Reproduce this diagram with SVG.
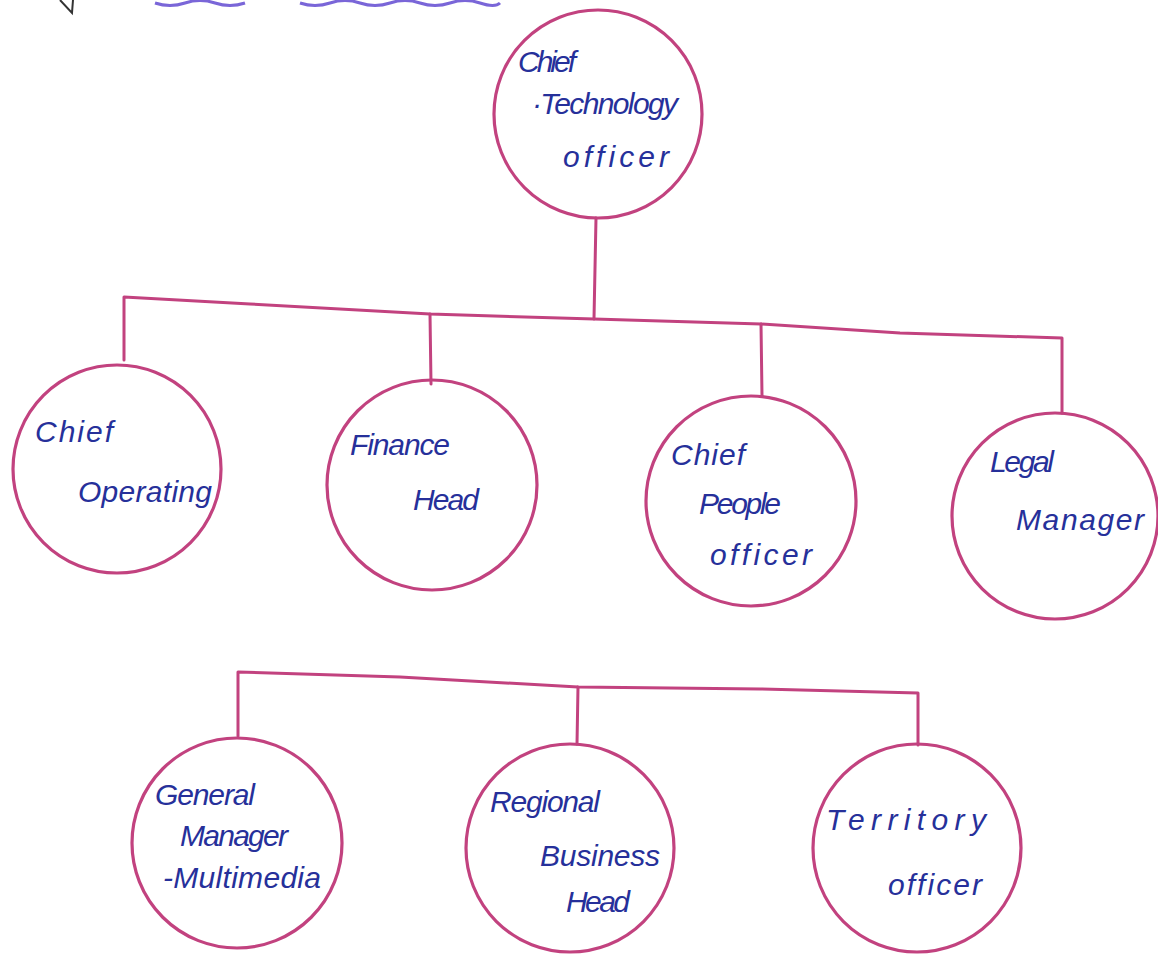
<svg xmlns="http://www.w3.org/2000/svg" width="1158" height="955" viewBox="0 0 1158 955">
<style>
.node circle{fill:none;stroke:#c2427f;stroke-width:3.2}
.node text{font-family:"Liberation Sans","DejaVu Sans",sans-serif;font-style:italic;font-size:30px;fill:#26309a}
.conn{fill:none;stroke:#c2427f;stroke-width:3;stroke-linejoin:round;stroke-linecap:round}
</style>
<rect width="1158" height="955" fill="#ffffff"/>
<g id="marks">
<path d="M60 0 L72 13 L73 0" fill="none" stroke="#333" stroke-width="2"/>
<path d="M155 3 Q170 8 185 3 T215 3 T245 3 M300 3 Q315 8 330 3 T360 3 T390 3 T420 3 T450 3 T480 3 T500 3" fill="none" stroke="#7a66d8" stroke-width="3"/>
</g>
<g id="connectors">
<path class="conn" d="M596 218 L594 319"/>
<path class="conn" d="M124 360 L124 297 L250 304 L430 314 L594 319 L761 324 L900 333 L1062 338 L1062 413"/>
<path class="conn" d="M430 314 L431 384"/>
<path class="conn" d="M761 324 L762 396"/>
<path class="conn" d="M238 736 L238 672 L400 677 L578 687 L760 689 L918 693 L918 745"/>
<path class="conn" d="M578 687 L577 744"/>
</g>
<g id="cto" class="node">
<circle cx="598" cy="114" r="104"/>
<text x="518" y="72" font-size="27" textLength="58" lengthAdjust="spacing">Chief</text>
<text x="532" y="114" font-size="27" textLength="146" lengthAdjust="spacing">·Technology</text>
<text x="563" y="167" font-size="34" textLength="106" lengthAdjust="spacing">officer</text>
</g>
<g id="coo" class="node">
<circle cx="117" cy="469" r="104"/>
<text x="35" y="442" font-size="32" textLength="78" lengthAdjust="spacing">Chief</text>
<text x="78" y="502" font-size="30" textLength="134" lengthAdjust="spacing">Operating</text>
</g>
<g id="finance" class="node">
<circle cx="432" cy="485" r="105"/>
<text x="350" y="455" font-size="28" textLength="100" lengthAdjust="spacing">Finance</text>
<text x="413" y="510" font-size="28" textLength="66" lengthAdjust="spacing">Head</text>
</g>
<g id="cpo" class="node">
<circle cx="751" cy="501" r="105"/>
<text x="671" y="465" font-size="31" textLength="74" lengthAdjust="spacing">Chief</text>
<text x="699" y="514" font-size="27" textLength="82" lengthAdjust="spacing">People</text>
<text x="710" y="565" font-size="34" textLength="102" lengthAdjust="spacing">officer</text>
</g>
<g id="legal" class="node">
<circle cx="1055" cy="516" r="103"/>
<text x="990" y="472" font-size="27" textLength="64" lengthAdjust="spacing">Legal</text>
<text x="1016" y="530" font-size="31" textLength="128" lengthAdjust="spacing">Manager</text>
</g>
<g id="gm" class="node">
<circle cx="237" cy="843" r="105"/>
<text x="155" y="805" font-size="28" textLength="100" lengthAdjust="spacing">General</text>
<text x="180" y="846" font-size="27" textLength="108" lengthAdjust="spacing">Manager</text>
<text x="163" y="888" font-size="30" textLength="158" lengthAdjust="spacing">-Multimedia</text>
</g>
<g id="rbh" class="node">
<circle cx="570" cy="848" r="104"/>
<text x="490" y="812" font-size="28" textLength="110" lengthAdjust="spacing">Regional</text>
<text x="540" y="866" font-size="29" textLength="120" lengthAdjust="spacing">Business</text>
<text x="566" y="912" font-size="27" textLength="64" lengthAdjust="spacing">Head</text>
</g>
<g id="to" class="node">
<circle cx="917" cy="848" r="104"/>
<text x="826" y="830" font-size="34" textLength="160" lengthAdjust="spacing">Territory</text>
<text x="888" y="895" font-size="33" textLength="94" lengthAdjust="spacing">officer</text>
</g>
</svg>
